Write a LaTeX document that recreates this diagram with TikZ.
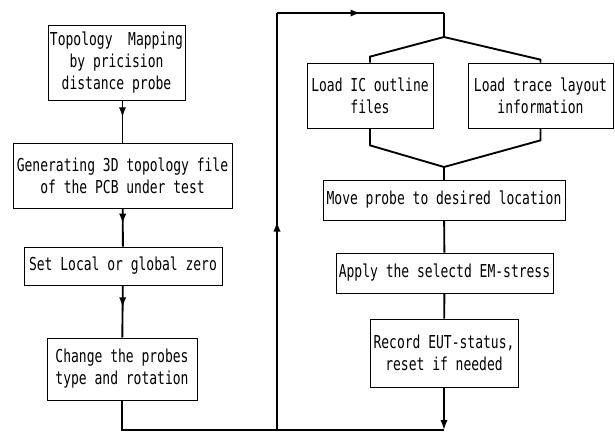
\documentclass[tikz,border=0pt]{standalone}
\usepackage{fontspec}
\newfontfamily\boxfont[FakeStretch=0.73]{DejaVu Sans Mono}
\usetikzlibrary{decorations.markings}
\usetikzlibrary{arrows.meta}
\tikzset{
  stagebox/.style={draw, line width=0.6pt, align=center, inner sep=1pt,
    font=\boxfont\fontsize{15.2pt}{18.8pt}\selectfont},
  flow/.style={line width=1.6pt},
  midtip/.style={postaction={decorate}, decoration={markings,
    mark=at position #1 with {\arrow{Latex[length=3mm, width=2.2mm]}}}}
}
\begin{document}
\begin{tikzpicture}[x=0.3mm, y=-0.3mm]
	\useasboundingbox (0,0) rectangle (615,432);
	\node[stagebox, minimum width=41.1mm, minimum height=22.5mm] (topo) at (116.5,62.5) {Topology\ \ Mapping\\by pricision\\distance probe};
	\node[stagebox, minimum width=65.7mm, minimum height=19.5mm] (gen) at (122.5,175.5) {Generating 3D topology file\\of the PCB under test};
	\node[stagebox, minimum width=59.4mm, minimum height=11.4mm] (zero) at (123,266) {Set Local or global zero};
	\node[stagebox, minimum width=45mm, minimum height=18.6mm] (probes) at (122,369) {Change the probes\\type and rotation};
	%
	\node[stagebox, minimum width=37.8mm, minimum height=19.5mm] (icfiles) at (370,95.5) {Load IC outline\\files};
	\node[stagebox, minimum width=43.5mm, minimum height=19.5mm] (trace) at (540.5,95.5) {Load trace layout\\information};
	\node[stagebox, minimum width=72.6mm, minimum height=12mm] (move) at (444,200) {Move probe to desired location};
	\node[stagebox, minimum width=65.1mm, minimum height=12mm] (apply) at (444.5,273) {Apply the selectd EM-stress};
	\node[stagebox, minimum width=44.4mm, minimum height=20.4mm] (record) at (444,353) {Record EUT-status,\\reset if needed};
	%
	\coordinate (join) at (444,430);
	\coordinate (loopbot) at (277,430);
	\coordinate (looptop) at (277,13);
	\coordinate (fork) at (444,37);
	\coordinate (merge) at (444,167);
	%
	\draw[flow, midtip=0.4] (topo.south -| gen.north) -- (gen.north);
	\draw[flow, midtip=0.4] (gen) -- (zero);
	\draw[flow, midtip=0.42] (zero) -- (probes);
	\draw[flow] (probes) |- (join);
	\draw[flow, midtip=0.5] (loopbot) -- (looptop);
	\draw[flow, midtip=0.5] (looptop) -- (looptop -| fork);
	\draw[flow] (looptop -| fork) -- (fork);
	\draw[flow] (fork) -- ([yshift=1.8mm]icfiles.north) -- (icfiles.north);
	\draw[flow] (fork) -- ([yshift=0.9mm]trace.north) -- (trace.north);
	\draw[flow] (icfiles.south) -- ++(0,17) -- (merge);
	\draw[flow] (trace.south) -- ++(0,12) -- (merge);
	\draw[flow] (merge) -- (move);
	\draw[flow] (move) -- (apply);
	\draw[flow] (apply) -- (record);
	\draw[flow, -{Latex[length=3mm, width=2.2mm]}] (record) -- (join);
\end{tikzpicture}
\end{document}
